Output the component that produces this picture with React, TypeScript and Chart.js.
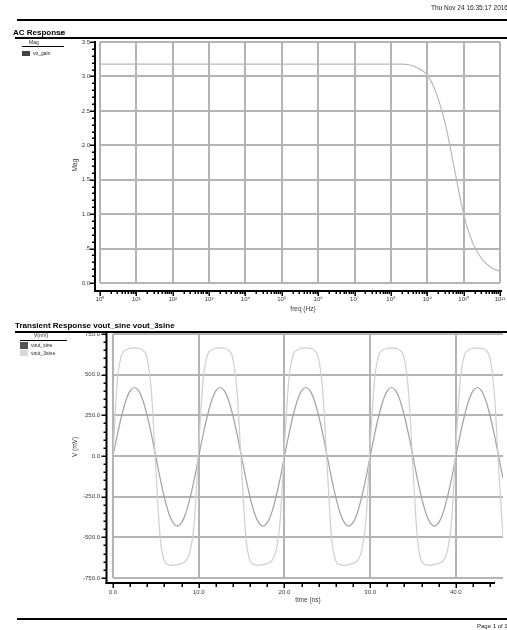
import React, { useEffect, useRef } from "react";
import { Chart, registerables } from "chart.js";

Chart.register(...registerables);

// ---------- text ----------
const headerDate = "Thu Nov 24 16:35:17 2016";
const footerText = "Page 1 of 1";
const acTitle = "AC Response";
const acTitleNote = "dB";
const acSubtitle = "Mag";
const acLegend = ["vo_gain"];
const acXTitle = "freq (Hz)";
const acYTitle = "Mag";
const trTitle = "Transient Response  vout_sine  vout_3sine";
const trSubtitle = "V(mV)";
const trLegend = ["vout_sine", "vout_3sine"];
const trXTitle = "time (ns)";
const trYTitle = "V (mV)";

// ---------- AC data ----------
const freqHz = [1, 10, 100, 1e3, 1e4, 1e5, 1e6, 1e7, 1e8, 1.78e8, 3.16e8, 5.62e8, 1e9, 1.78e9, 3.16e9, 5.62e9, 1e10, 1.78e10, 3.16e10, 5.62e10, 1e11];
const magValues = [3.18, 3.18, 3.18, 3.18, 3.18, 3.18, 3.18, 3.18, 3.18, 3.178, 3.17, 3.12, 3.02, 2.75, 2.3, 1.65, 1.0, 0.58, 0.35, 0.23, 0.17];
const freqTicks = [1, 10, 100, 1e3, 1e4, 1e5, 1e6, 1e7, 1e8, 1e9, 1e10, 1e11];
const freqTickLabels = ["10⁰", "10¹", "10²", "10³", "10⁴", "10⁵", "10⁶", "10⁷", "10⁸", "10⁹", "10¹⁰", "10¹¹"];
const magTicks = [0, 0.5, 1, 1.5, 2, 2.5, 3, 3.5];
const magTickLabels = ["0.0", ".5", "1.0", "1.5", "2.0", "2.5", "3.0", "3.5"];

// ---------- transient data ----------
const timeNs = [
  0, 0.5, 1, 1.5, 2, 2.5, 3, 3.5, 4, 4.5, 5, 5.5, 6, 6.5, 7, 7.5, 8, 8.5, 9, 9.5,
  10, 10.5, 11, 11.5, 12, 12.5, 13, 13.5, 14, 14.5, 15, 15.5, 16, 16.5, 17, 17.5, 18, 18.5, 19, 19.5,
  20, 20.5, 21, 21.5, 22, 22.5, 23, 23.5, 24, 24.5, 25, 25.5, 26, 26.5, 27, 27.5, 28, 28.5, 29, 29.5,
  30, 30.5, 31, 31.5, 32, 32.5, 33, 33.5, 34, 34.5, 35, 35.5, 36, 36.5, 37, 37.5, 38, 38.5, 39, 39.5,
  40, 40.5, 41, 41.5, 42, 42.5, 43, 43.5, 44, 44.5, 45, 45.5,
];
const voutSine = [
  0, 128, 246, 340, 400, 421, 400, 340, 246, 128, -5, -138, -256, -350, -410, -431, -410, -350, -256, -138,
  -3, 128, 246, 340, 400, 421, 400, 340, 246, 128, -5, -138, -256, -350, -410, -431, -410, -350, -256, -138,
  -3, 128, 246, 340, 400, 421, 400, 340, 246, 128, -5, -138, -256, -350, -410, -431, -410, -350, -256, -138,
  -3, 128, 246, 340, 400, 421, 400, 340, 246, 128, -5, -138, -256, -350, -410, -431, -410, -350, -256, -138,
  -3, 128, 246, 340, 400, 421, 400, 340, 246, 128, -5, -138,
];
const vout3Sine = [
  0, 460, 620, 652, 662, 665, 662, 650, 595, 380, -80, -500, -645, -668, -672, -668, -660, -645, -585, -400,
  60, 460, 620, 652, 662, 665, 662, 650, 595, 380, -80, -500, -645, -668, -672, -668, -660, -645, -585, -400,
  60, 460, 620, 652, 662, 665, 662, 650, 595, 380, -80, -500, -645, -668, -672, -668, -660, -645, -585, -400,
  60, 460, 620, 652, 662, 665, 662, 650, 595, 380, -80, -500, -645, -668, -672, -668, -660, -645, -585, -400,
  60, 460, 620, 652, 662, 665, 662, 650, 595, 380, -80, -500,
];
const timeTicks = [0, 10, 20, 30, 40];
const timeTickLabels = ["0.0", "10.0", "20.0", "30.0", "40.0"];
const voltTicks = [-750, -500, -250, 0, 250, 500, 750];
const voltTickLabels = ["-750.0", "-500.0", "-250.0", "0.0", "250.0", "500.0", "750.0"];

const FONT = '"Liberation Sans", Arial, sans-serif';
const GRID = "#b4b4b4";
const LABEL = "#3a3a3a";

function drawAxes(chart: any, cfg: any) {
  const { ctx, chartArea: a, scales } = chart;
  const x = scales.x;
  const y = scales.y;
  ctx.save();
  ctx.strokeStyle = "#000";
  const ax = a.left - cfg.yOff;
  const ay = a.bottom + cfg.xOff;
  // y axis
  ctx.lineWidth = 2;
  ctx.beginPath();
  ctx.moveTo(ax, a.top - 1);
  ctx.lineTo(ax, ay + 1);
  ctx.stroke();
  ctx.lineWidth = 1.5;
  ctx.beginPath();
  for (const t of cfg.yMinor) {
    const py = Math.round(y.getPixelForValue(t)) + 0.25;
    ctx.moveTo(ax, py);
    ctx.lineTo(ax - 3, py);
  }
  for (const t of cfg.yMajor) {
    const py = Math.round(y.getPixelForValue(t)) + 0.25;
    ctx.moveTo(ax, py);
    ctx.lineTo(ax - 5, py);
  }
  ctx.stroke();
  // x axis
  ctx.lineWidth = 2;
  ctx.beginPath();
  ctx.moveTo(ax - 1, ay);
  ctx.lineTo(cfg.xEnd, ay);
  ctx.stroke();
  ctx.lineWidth = 1.5;
  ctx.beginPath();
  for (const t of cfg.xMinor) {
    const px = Math.round(x.getPixelForValue(t)) + 0.25;
    ctx.moveTo(px, ay);
    ctx.lineTo(px, ay + cfg.minorLen);
  }
  for (const t of cfg.xMajor) {
    const px = Math.round(x.getPixelForValue(t)) + 0.25;
    ctx.moveTo(px, ay);
    ctx.lineTo(px, ay + 5);
  }
  ctx.stroke();
  // axis titles
  ctx.fillStyle = LABEL;
  ctx.font = `6.5px ${FONT}`;
  ctx.textAlign = "center";
  ctx.textBaseline = "middle";
  ctx.fillText(cfg.xTitle, cfg.xTitlePos[0], cfg.xTitlePos[1]);
  ctx.translate(cfg.yTitlePos[0], cfg.yTitlePos[1]);
  ctx.rotate(-Math.PI / 2);
  ctx.fillText(cfg.yTitle, 0, 0);
  ctx.restore();
}

function range(a: number, b: number, s: number) {
  const out: number[] = [];
  for (let v = a; v <= b + 1e-9; v += s) out.push(Math.round(v * 1000) / 1000);
  return out;
}

function logMinor() {
  const out: number[] = [];
  for (let d = 0; d < 11; d++) for (let k = 2; k <= 9; k++) out.push(k * Math.pow(10, d));
  return out;
}

const noSidePad = (s: any, h: number) => {
  s.height = h;
  s.paddingLeft = 0;
  s.paddingRight = 0;
};

function AcChart() {
  const ref = useRef<HTMLCanvasElement>(null);
  useEffect(() => {
    const canvas = ref.current!;
    const chart = new Chart(canvas, {
      type: "line",
      data: {
        datasets: [
          {
            label: acLegend[0],
            data: freqHz.map((f, i) => ({ x: f, y: magValues[i] })),
            borderColor: "#b9b9b9",
            borderWidth: 1.2,
            pointRadius: 0,
            cubicInterpolationMode: "monotone",
          },
        ],
      },
      options: {
        animation: false,
        responsive: false,
        maintainAspectRatio: false,
        layout: { padding: { left: 0, top: 42, right: 7, bottom: 0 } },
        plugins: { legend: { display: false }, tooltip: { enabled: false }, title: { display: false } },
        scales: {
          x: {
            type: "logarithmic",
            min: 1,
            max: 1e11,
            afterFit: (s: any) => noSidePad(s, 33),
            afterBuildTicks: (s: any) => { s.ticks = freqTicks.map((v) => ({ value: v, major: true })); },
            ticks: {
              autoSkip: false,
              maxRotation: 0,
              padding: 13,
              color: LABEL,
              font: { size: 6, family: FONT },
              callback: (_v: any, i: number) => freqTickLabels[i],
            },
            grid: { color: GRID, lineWidth: 2, drawTicks: false },
            border: { display: false },
          },
          y: {
            min: 0,
            max: 3.5,
            afterFit: (s: any) => { s.width = 100; },
            afterBuildTicks: (s: any) => { s.ticks = magTicks.map((v) => ({ value: v })); },
            ticks: {
              padding: 10,
              color: LABEL,
              font: { size: 6, family: FONT },
              callback: (_v: any, i: number) => magTickLabels[i],
            },
            grid: { color: GRID, lineWidth: 2, drawTicks: false },
            border: { display: false },
          },
        },
      },
      plugins: [
        {
          id: "acAxes",
          afterDraw: (c: any) =>
            drawAxes(c, {
              yOff: 5,
              xOff: 8,
              xEnd: 502,
              yMinor: range(0, 3.5, 0.1),
              yMajor: magTicks,
              xMinor: logMinor(),
              xMajor: freqTicks,
              minorLen: 3,
              xTitle: acXTitle,
              xTitlePos: [303, 309],
              yTitle: acYTitle,
              yTitlePos: [75, 165],
            }),
        },
      ],
    } as any);
    return () => chart.destroy();
  }, []);
  return <canvas ref={ref} width={507} height={316} style={{ position: "absolute", left: 0, top: 0 }} />;
}

function TranChart() {
  const ref = useRef<HTMLCanvasElement>(null);
  useEffect(() => {
    const canvas = ref.current!;
    const chart = new Chart(canvas, {
      type: "line",
      data: {
        datasets: [
          {
            label: trLegend[1],
            data: timeNs.map((t, i) => ({ x: t, y: vout3Sine[i] })),
            borderColor: "#cfcfcf",
            borderWidth: 1.2,
            pointRadius: 0,
            cubicInterpolationMode: "monotone",
          },
          {
            label: trLegend[0],
            data: timeNs.map((t, i) => ({ x: t, y: voutSine[i] })),
            borderColor: "#a2a2a2",
            borderWidth: 1.2,
            pointRadius: 0,
            cubicInterpolationMode: "monotone",
          },
        ],
      },
      options: {
        animation: false,
        responsive: false,
        maintainAspectRatio: false,
        layout: { padding: { left: 0, top: 18, right: 4, bottom: 0 } },
        plugins: { legend: { display: false }, tooltip: { enabled: false }, title: { display: false } },
        scales: {
          x: {
            type: "linear",
            min: 0,
            max: 45.5,
            afterFit: (s: any) => noSidePad(s, 52),
            afterBuildTicks: (s: any) => { s.ticks = timeTicks.map((v) => ({ value: v })); },
            ticks: {
              autoSkip: false,
              maxRotation: 0,
              padding: 11,
              color: LABEL,
              font: { size: 6, family: FONT },
              callback: (_v: any, i: number) => timeTickLabels[i],
            },
            grid: { color: GRID, lineWidth: 2, drawTicks: false },
            border: { display: false },
          },
          y: {
            min: -750,
            max: 750,
            afterFit: (s: any) => { s.width = 113; },
            afterBuildTicks: (s: any) => { s.ticks = voltTicks.map((v) => ({ value: v })); },
            ticks: {
              padding: 13,
              color: LABEL,
              font: { size: 6, family: FONT },
              callback: (_v: any, i: number) => voltTickLabels[i],
            },
            grid: { color: GRID, lineWidth: 2, drawTicks: false },
            border: { display: false },
          },
        },
      },
      plugins: [
        {
          id: "trAxes",
          afterDraw: (c: any) =>
            drawAxes(c, {
              yOff: 6.5,
              xOff: 5,
              xEnd: 495,
              yMinor: range(-750, 750, 50),
              yMajor: voltTicks,
              xMinor: range(0, 44, 2),
              xMajor: timeTicks,
              minorLen: 4,
              xTitle: trXTitle,
              xTitlePos: [308, 600 - 316],
              yTitle: trYTitle,
              yTitlePos: [75, 447 - 316],
            }),
        },
      ],
    } as any);
    return () => chart.destroy();
  }, []);
  return <canvas ref={ref} width={507} height={314} style={{ position: "absolute", left: 0, top: 316 }} />;
}

const abs = (left: number, top: number, extra: React.CSSProperties = {}): React.CSSProperties => ({
  position: "absolute",
  left,
  top,
  lineHeight: 1,
  whiteSpace: "nowrap",
  ...extra,
});

export default function App() {
  return (
    <div
      style={{
        position: "absolute",
        left: 0,
        top: 0,
        width: 507,
        height: 630,
        overflow: "hidden",
        background: "#fff",
        fontFamily: FONT,
        color: "#222",
      }}
    >
      <AcChart />
      <TranChart />
      {/* header */}
      <div style={abs(431, 5, { fontSize: 6.5 })}>{headerDate}</div>
      <div style={abs(17, 19, { width: 490, height: 2, background: "#000" })} />
      {/* AC titles & legend */}
      <div style={abs(13, 29, { fontSize: 8, fontWeight: 700, color: "#000" })}>{acTitle}</div>
      <div style={abs(59, 31, { fontSize: 5 })}>{acTitleNote}</div>
      <div style={abs(15, 37, { width: 492, height: 1.5, background: "#000" })} />
      <div style={abs(29, 40, { fontSize: 5 })}>{acSubtitle}</div>
      <div style={abs(22, 46, { width: 42, height: 1, background: "#000" })} />
      <div style={abs(22, 51, { width: 8, height: 5, background: "#444" })} />
      <div style={abs(33, 51, { fontSize: 5 })}>{acLegend[0]}</div>
      {/* transient titles & legend */}
      <div style={abs(15, 322, { fontSize: 8, fontWeight: 700, color: "#000" })}>{trTitle}</div>
      <div style={abs(15, 331, { width: 492, height: 1.5, background: "#000" })} />
      <div style={abs(34, 333, { fontSize: 5 })}>{trSubtitle}</div>
      <div style={abs(20, 340, { width: 47, height: 1, background: "#000" })} />
      <div style={abs(20, 342, { width: 8, height: 7, background: "#555" })} />
      <div style={abs(31, 343, { fontSize: 5 })}>{trLegend[0]}</div>
      <div style={abs(20, 350, { width: 8, height: 6, background: "#d8d8d8" })} />
      <div style={abs(31, 351, { fontSize: 5 })}>{trLegend[1]}</div>
      {/* footer */}
      <div style={abs(17, 618, { width: 490, height: 2, background: "#000" })} />
      <div style={abs(477, 623, { fontSize: 6 })}>{footerText}</div>
    </div>
  );
}
